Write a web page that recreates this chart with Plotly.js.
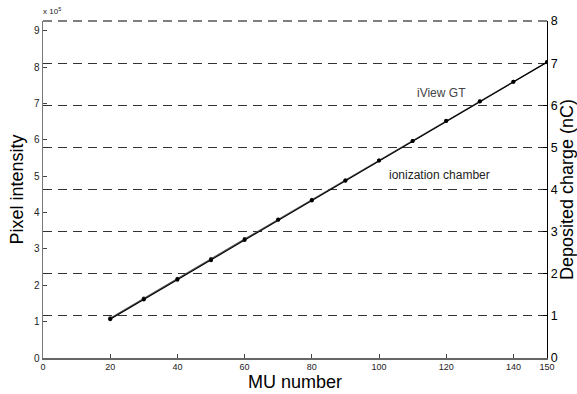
<!DOCTYPE html>
<html><head><meta charset="utf-8">
<script src="https://cdn.plot.ly/plotly-3.0.1.min.js"></script>
<style>html,body{margin:0;padding:0;background:#fff}#chart{width:577px;height:394px}</style>
</head><body><div id="chart"></div>
<script>
var muNumber = [20, 30, 40, 50, 60, 70, 80, 90, 100, 110, 120, 130, 140, 150];
var iViewPixel = [109000, 164000, 218000, 272000, 327000, 381000, 435000, 489000, 543000, 597000, 652000, 706000, 760000, 814000];
var chamberCharge = [0.92, 1.39, 1.86, 2.32, 2.80, 3.28, 3.74, 4.21, 4.69, 5.15, 5.63, 6.09, 6.56, 7.02];
var xTicks = [0, 20, 40, 60, 80, 100, 120, 140, 150];
var leftTickVals = [0, 100000, 200000, 300000, 400000, 500000, 600000, 700000, 800000, 900000];
var leftTickText = ["0", "1", "2", "3", "4", "5", "6", "7", "8", "9"];
var rightTicks = [0, 1, 2, 3, 4, 5, 6, 7, 8];

var font = "Liberation Sans, Arial, sans-serif";
var traces = [
  {x: muNumber, y: iViewPixel, type: "scatter", mode: "lines+markers", name: "iView GT",
   line: {color: "#555", width: 1.3}, marker: {color: "#222", size: 4}, yaxis: "y"},
  {x: muNumber, y: chamberCharge, type: "scatter", mode: "lines+markers", name: "ionization chamber",
   line: {color: "#000", width: 1.1}, marker: {color: "#000", size: 4}, yaxis: "y2"}
];
var layout = {
  width: 577, height: 394,
  margin: {l: 43, r: 30, t: 21, b: 36},
  paper_bgcolor: "#fff", plot_bgcolor: "#fff",
  showlegend: false,
  font: {family: font, color: "#000"},
  xaxis: {range: [0, 150], tickvals: xTicks, ticks: "inside", ticklen: 4, tickcolor: "#444",
    showline: true, linecolor: "#666", linewidth: 1.5, showgrid: false, zeroline: false,
    tickfont: {size: 9, color: "#222"},
    title: {text: "MU number", font: {size: 18, color: "#000"}, standoff: 1}},
  yaxis: {range: [0, 927000], tickvals: leftTickVals, ticktext: leftTickText, ticks: "inside", ticklen: 4,
    tickcolor: "#444", showline: true, linecolor: "#777", linewidth: 1.5, showgrid: false, zeroline: false,
    tickfont: {size: 10, color: "#222"},
    title: {text: "Pixel intensity", font: {size: 18, color: "#000"}, standoff: 5}},
  yaxis2: {range: [0, 8], overlaying: "y", side: "right", tickvals: rightTicks, ticks: "inside", ticklen: 4,
    tickcolor: "#000", showline: true, linecolor: "#000", linewidth: 1.2,
    showgrid: true, gridcolor: "#333", gridwidth: 1, griddash: "9px,6px", zeroline: false,
    tickfont: {size: 12.5, color: "#000"},
    title: {text: "Deposited charge (nC)", font: {size: 18, color: "#000"}, standoff: 3}},
  shapes: [
    {type: "line", xref: "paper", yref: "paper", x0: 0, x1: 1, y0: 1, y1: 1,
     line: {color: "#555", width: 1.5, dash: "9px,6px"}}
  ],
  annotations: [
    {xref: "paper", yref: "paper", x: -0.003, y: 1.0, yshift: 3, xanchor: "left", yanchor: "bottom",
     text: "x 10<sup>5</sup>", showarrow: false, font: {size: 8, color: "#222"}},
    {xref: "x", yref: "y2", x: 118.7, y: 6.28, text: "iView GT", showarrow: false,
     font: {size: 12, color: "#444"}},
    {xref: "x", yref: "y2", x: 118, y: 4.34, text: "ionization chamber", showarrow: false,
     font: {size: 12, color: "#222"}}
  ]
};
Plotly.newPlot("chart", traces, layout, {staticPlot: true});
</script></body></html>
